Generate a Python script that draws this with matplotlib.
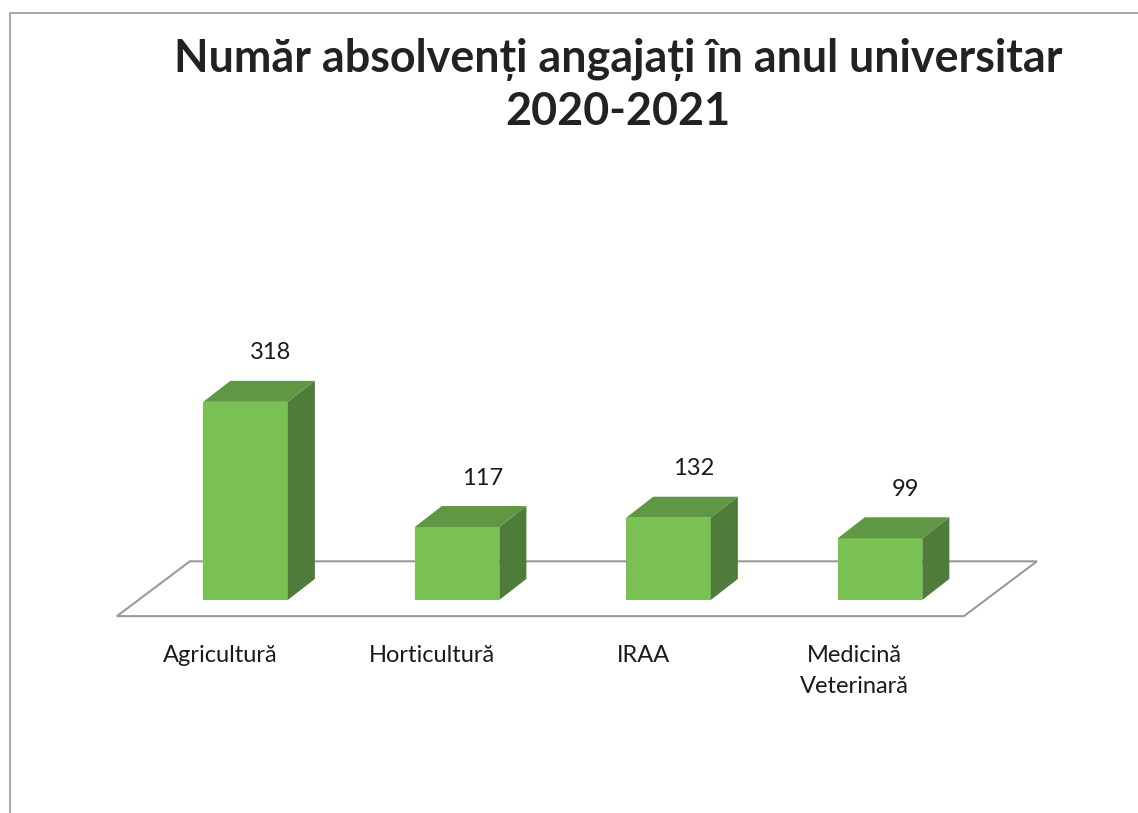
import matplotlib.pyplot as plt
from matplotlib.patches import Polygon, Rectangle

# Data
categories = ['Agricultură', 'Horticultură', 'IRAA', 'Medicină\nVeterinară']
values = [318, 117, 132, 99]

title = 'Număr absolvenți angajați în anul universitar\n2020-2021'

# Style / pseudo-3D geometry (in axis units)
FRONT = '#78c152'
TOP = '#5f9745'
SIDE = '#4f7c3a'
BAR_W = 0.40
DX, DY = 0.128, 33.7          # depth offset of a box
FLOOR_DX, FLOOR_DY = 0.345, 88  # depth offset of the floor
FONT = 'Lato'

fig = plt.figure(figsize=(11.38, 8.13), dpi=100)
ax = fig.add_axes([0, 0, 1, 1])
ax.set_xlim(-1.161, 4.22)
ax.set_ylim(-342, 963)
ax.axis('off')

# outer chart frame
fig.patches.append(Rectangle((10 / 1138, -0.1), 1.2, 0.1 + (813 - 13) / 813,
                             transform=fig.transFigure, fill=False,
                             edgecolor='#9a9a9a', lw=1.2))

# floor
x0, x1, yf = -0.608, len(values) - 1 + 0.397, -26
floor = Polygon([(x0, yf), (x0 + FLOOR_DX, yf + FLOOR_DY),
                 (x1 + FLOOR_DX, yf + FLOOR_DY), (x1, yf)],
                closed=True, fill=False, edgecolor='#9a9a9a', lw=1.5, zorder=1)
ax.add_patch(floor)

for i, (cat, v) in enumerate(zip(categories, values)):
    l, r = i - BAR_W / 2, i + BAR_W / 2
    front = Polygon([(l, 0), (r, 0), (r, v), (l, v)], closed=True,
                    facecolor=FRONT, edgecolor='none', zorder=3)
    top = Polygon([(l, v), (r, v), (r + DX, v + DY), (l + DX, v + DY)], closed=True,
                  facecolor=TOP, edgecolor='none', zorder=3)
    side = Polygon([(r, 0), (r + DX, DY), (r + DX, v + DY), (r, v)], closed=True,
                   facecolor=SIDE, edgecolor='none', zorder=3)
    for p in (front, top, side):
        ax.add_patch(p)
    ax.text(i + 0.12, v + DY + 45, str(v), ha='center', va='center',
            fontsize=17, family=FONT, color='#1a1a1a')
    ax.text(i - 0.12, -73, cat, ha='center', va='top', fontsize=17,
            family=FONT, color='#1a1a1a', linespacing=1.55)

fig.text(0.543, 0.953, title, ha='center', va='top', fontsize=32.3,
         fontweight='bold', family=FONT, color='#222222', linespacing=1.3)

plt.savefig('out.png', dpi=100, facecolor='white')
